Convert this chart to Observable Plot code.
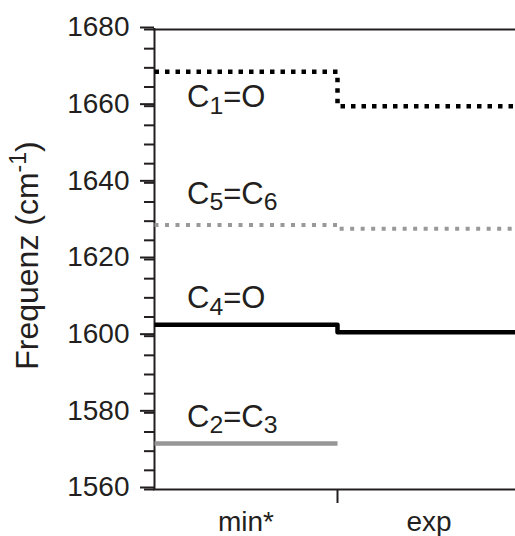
<!DOCTYPE html>
<html>
<head>
<meta charset="utf-8">
<script src="https://cdn.jsdelivr.net/npm/d3@7"></script>
<script src="https://cdn.jsdelivr.net/npm/@observablehq/plot@0.6"></script>
<style>
  html, body { margin: 0; padding: 0; background: #fff; overflow: hidden; }
</style>
</head>
<body>
<div id="chart"></div>
<script>
// Stretching frequencies (cm⁻¹): computed minimum (min*) vs. experiment (exp)
const methods = ["min*", "exp"];
const bonds = ["C1=O", "C5=C6", "C4=O", "C2=C3"];
const minValues = [1669, 1629, 1603, 1572];
const expValues = [1660, 1628, 1601, null];
const yTicks = [1560, 1580, 1600, 1620, 1640, 1660, 1680];
const yLabel = "Frequenz (cm-1)";

const ink = "#231f20";

// Per-bond drawing style and label offset
const look = {
  "C1=O":  {stroke: "#000",    width: 4.5, dash: "4.5 6",  labelDy: 25.9},
  "C5=C6": {stroke: "#999999", width: 4,   dash: "4 6.5",  labelDy: -31.4},
  "C4=O":  {stroke: "#000",    width: 4.5, dash: null,     labelDy: -26.1},
  "C2=C3": {stroke: "#969696", width: 4.5, dash: null,     labelDy: -26.9}
};

// Step path per bond: x = 0 → 1 is the min* band, 1 → 2 the exp band
const steps = bonds.flatMap((bond, i) => {
  const a = minValues[i], b = expValues[i];
  return b == null
    ? [{bond, x: 0, y: a}, {bond, x: 1, y: a}]
    : [{bond, x: 0, y: a}, {bond, x: 1, y: b}, {bond, x: 2, y: b}];
});
const labels = bonds.map((bond, i) => ({bond, y: minValues[i]}));

const minorTicks = d3.range(1560, 1681, 5);
const font = '"Liberation Sans", Arial, Helvetica, sans-serif';
const labelSize = 31;

const chart = Plot.plot({
  width: 515,
  height: 536,
  marginLeft: 154,
  marginRight: 0,
  marginTop: 29,
  marginBottom: 47,
  style: {fontFamily: font, fontSize: "28px", color: ink, background: "#fff"},
  x: {domain: [0, 2], range: [154, 520]},
  y: {domain: [1560, 1680]},
  marks: [
    Plot.axisY({ticks: minorTicks, tickSize: 10, tickFormat: () => "", strokeWidth: 2, label: null}),
    Plot.axisY({ticks: yTicks, tickSize: 14, tickPadding: 11, dy: -2, strokeWidth: 2, fontSize: 28,
                tickFormat: d => String(d), label: null}),
    Plot.axisX({ticks: [1], tickSize: 14, tickFormat: () => "", strokeWidth: 2, label: null}),
    Plot.axisX({ticks: [0.5, 1.5], tickSize: 0, tickPadding: 22, fontSize: 28,
                tickFormat: d => methods[Math.floor(d)], label: null}),
    Plot.ruleY([1560, 1680], {stroke: ink, strokeWidth: 2, strokeLinecap: "square"}),
    Plot.ruleX([0], {stroke: ink, strokeWidth: 2, strokeLinecap: "square"}),
    ...bonds.map(bond => Plot.line(steps.filter(d => d.bond === bond), {
      x: "x", y: "y", curve: "step-after", clip: true,
      stroke: look[bond].stroke, strokeWidth: look[bond].width,
      strokeDasharray: look[bond].dash, strokeLinecap: "butt", strokeLinejoin: "round"
    })),
    ...bonds.map(bond => Plot.text(labels.filter(d => d.bond === bond), {
      x: () => 0, y: "y", text: "bond", dx: 32.5, dy: look[bond].labelDy,
      textAnchor: "start", lineAnchor: "middle", fontSize: labelSize, fill: ink
    })),
    Plot.text([yLabel], {
      frameAnchor: "left", text: d => d, rotate: -90, dx: -127, dy: -4,
      textAnchor: "middle", lineAnchor: "middle", fontSize: 32, fill: ink
    })
  ]
});

// Chemical subscripts and the exponent in the unit, as tspans
const SVGNS = "http://www.w3.org/2000/svg";
function rich(el, parts, size, shift, scale) {
  el.textContent = "";
  let offset = 0;
  parts.forEach(p => {
    if (!p.text) return;
    const t = document.createElementNS(SVGNS, "tspan");
    const target = p.mode === "sub" ? shift * size : p.mode === "sup" ? -shift * size : 0;
    t.setAttribute("dy", target - offset);
    offset = target;
    if (p.mode) t.setAttribute("font-size", size * scale);
    t.textContent = p.text;
    el.appendChild(t);
  });
}
chart.querySelectorAll("text").forEach(el => {
  const s = el.textContent;
  if (bonds.includes(s)) {
    const parts = s.split(/(\d+)/).map((text, k) => ({text, mode: k % 2 ? "sub" : null}));
    rich(el, parts, labelSize, 0.22, 0.8);
  } else if (s === yLabel) {
    const parts = s.split(/(-\d+)/).map((text, k) => ({text, mode: k % 2 ? "sup" : null}));
    rich(el, parts, 32, 0.38, 0.72);
  }
});

document.getElementById("chart").appendChild(chart);
</script>
</body>
</html>
